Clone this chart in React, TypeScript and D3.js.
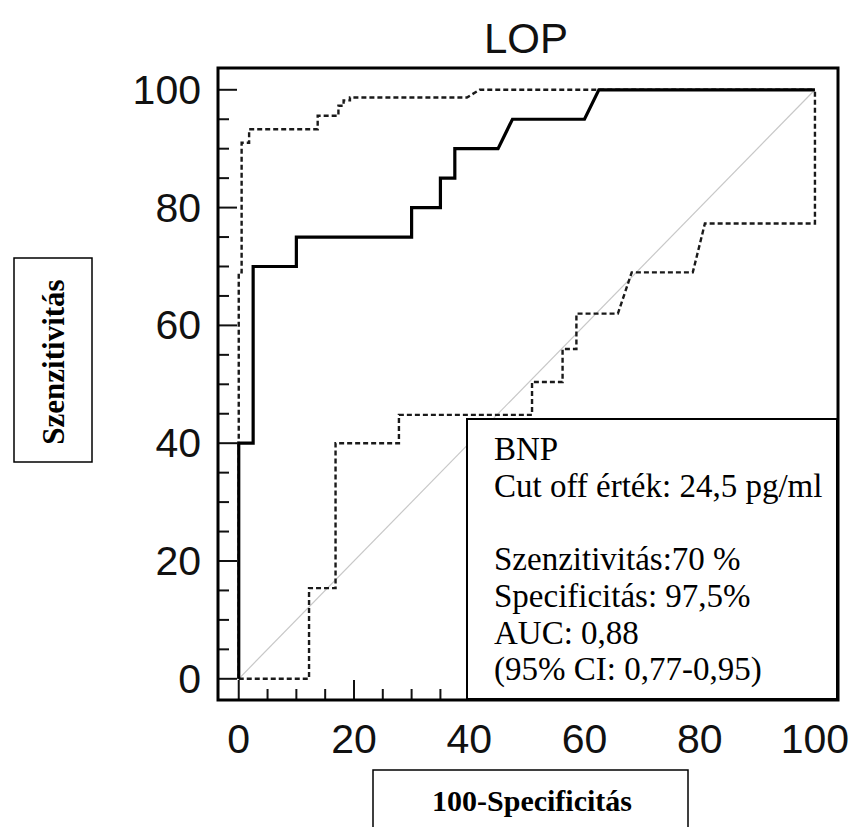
import React, { useEffect, useRef } from 'react';
import * as d3 from 'd3';

// ROC curve (100-specificity vs sensitivity)
const rocFpr = [0, 0, 2.5, 2.5, 10, 10, 30, 30, 35, 35, 37.5, 37.5, 45, 47.5, 60, 62.5, 100];
const rocTpr = [0, 40, 40, 70, 70, 75, 75, 80, 80, 85, 85, 90, 90, 95, 95, 100, 100];

// upper 95% confidence bound
const upperFpr = [0, 0, 0.5, 0.5, 1.8, 1.8, 13.7, 13.7, 17.3, 17.3, 18.2, 18.2, 19.3, 19.3, 39.6, 41.8, 100];
const upperTpr = [0, 69, 69, 91, 91, 93.3, 93.3, 95.6, 95.6, 97.3, 97.3, 98.2, 98.2, 98.7, 98.7, 100, 100];

// lower 95% confidence bound
const lowerFpr = [0, 12.2, 12.2, 16.8, 16.8, 27.8, 27.8, 50.9, 50.9, 56.2, 56.2, 58.6, 58.6, 65.8, 68.2, 78.8, 80.9, 100, 100];
const lowerTpr = [0, 0, 15.4, 15.4, 40, 40, 44.8, 44.8, 50.4, 50.4, 56, 56, 62, 62, 69, 69, 77.3, 77.3, 100];

const majorTicks = [0, 20, 40, 60, 80, 100];
const minorTicks = [5, 10, 15, 25, 30, 35, 45, 50, 55, 65, 70, 75, 85, 90, 95];

const legendLines = [
	'BNP',
	'Cut off érték: 24,5 pg/ml',
	'',
	'Szenzitivitás:70 %',
	'Specificitás: 97,5%',
	'AUC: 0,88',
	'(95% CI: 0,77-0,95)',
];

const width = 862;
const height = 827;

function RocChart() {
	const ref = useRef<SVGSVGElement>(null);

	useEffect(() => {
		const svg = d3.select(ref.current);
		svg.selectAll('*').remove();

		const x = d3.scaleLinear().domain([-3.6, 104]).range([218, 838]);
		const y = d3.scaleLinear().domain([-3.6, 103.7]).range([700, 68]);

		const sans = 'Liberation Sans, Arial, sans-serif';
		const serif = 'Liberation Serif, Times New Roman, serif';

		// ticks
		const g = svg.append('g').attr('stroke', '#111').attr('stroke-width', 2);
		majorTicks.forEach((t) => {
			g.append('line').attr('x1', 218).attr('x2', 237).attr('y1', y(t)).attr('y2', y(t));
			g.append('line').attr('x1', x(t)).attr('x2', x(t)).attr('y1', 700).attr('y2', 680);
		});
		minorTicks.forEach((t) => {
			g.append('line').attr('x1', 218).attr('x2', 229).attr('y1', y(t)).attr('y2', y(t));
			g.append('line').attr('x1', x(t)).attr('x2', x(t)).attr('y1', 700).attr('y2', 689);
		});

		// reference diagonal
		svg
			.append('line')
			.attr('x1', x(0))
			.attr('y1', y(0))
			.attr('x2', x(100))
			.attr('y2', y(100))
			.attr('stroke', '#c8c8c8')
			.attr('stroke-width', 1.2);

		const line = d3
			.line<number>()
			.x((d) => x(d[0]))
			.y((d) => y(d[1]));

		const zip = (a: number[], b: number[]) => a.map((v, i) => [v, b[i]]);

		[zip(upperFpr, upperTpr), zip(lowerFpr, lowerTpr)].forEach((pts) => {
			svg
				.append('path')
				.attr('d', line(pts as any))
				.attr('fill', 'none')
				.attr('stroke', '#1a1a1a')
				.attr('stroke-width', 2.4)
				.attr('stroke-dasharray', '5,3');
		});

		svg
			.append('path')
			.attr('d', line(zip(rocFpr, rocTpr) as any))
			.attr('fill', 'none')
			.attr('stroke', '#000')
			.attr('stroke-width', 3.2);

		// legend box
		svg
			.append('rect')
			.attr('x', 467)
			.attr('y', 419)
			.attr('width', 370)
			.attr('height', 280)
			.attr('fill', '#fff')
			.attr('stroke', '#000')
			.attr('stroke-width', 2);

		legendLines.forEach((txt, i) => {
			svg
				.append('text')
				.attr('x', 494)
				.attr('y', 460 + i * 36.7)
				.attr('font-family', serif)
				.attr('font-size', 33)
				.attr('fill', '#000')
				.text(txt);
		});

		// frame
		svg
			.append('rect')
			.attr('x', 218)
			.attr('y', 68)
			.attr('width', 620)
			.attr('height', 632)
			.attr('fill', 'none')
			.attr('stroke', '#000')
			.attr('stroke-width', 3);

		// tick labels
		majorTicks.forEach((t) => {
			svg
				.append('text')
				.attr('x', x(t))
				.attr('y', 753)
				.attr('text-anchor', 'middle')
				.attr('font-family', sans)
				.attr('font-size', 41)
				.attr('fill', '#111')
				.text(t);
			svg
				.append('text')
				.attr('x', 201)
				.attr('y', y(t) + 14)
				.attr('text-anchor', 'end')
				.attr('font-family', sans)
				.attr('font-size', 41)
				.attr('fill', '#111')
				.text(t);
		});

		// title
		svg
			.append('text')
			.attr('x', 526)
			.attr('y', 53)
			.attr('text-anchor', 'middle')
			.attr('font-family', sans)
			.attr('font-size', 42)
			.attr('fill', '#111')
			.text('LOP');

		// axis title boxes
		svg
			.append('rect')
			.attr('x', 14)
			.attr('y', 258)
			.attr('width', 78)
			.attr('height', 204)
			.attr('fill', '#fff')
			.attr('stroke', '#000')
			.attr('stroke-width', 1.5);
		svg
			.append('text')
			.attr('transform', 'translate(53,362) rotate(-90)')
			.attr('text-anchor', 'middle')
			.attr('dominant-baseline', 'central')
			.attr('font-family', serif)
			.attr('font-weight', 'bold')
			.attr('font-size', 31)
			.text('Szenzitivitás');

		svg
			.append('rect')
			.attr('x', 373)
			.attr('y', 770)
			.attr('width', 315)
			.attr('height', 80)
			.attr('fill', '#fff')
			.attr('stroke', '#000')
			.attr('stroke-width', 1.5);
		svg
			.append('text')
			.attr('x', 532)
			.attr('y', 811)
			.attr('text-anchor', 'middle')
			.attr('font-family', serif)
			.attr('font-weight', 'bold')
			.attr('font-size', 30)
			.text('100-Specificitás');
	}, []);

	return <svg ref={ref} width={width} height={height} style={{ display: 'block' }} />;
}

export default function App() {
	return (
		<div style={{ position: 'absolute', left: 0, top: 0, background: '#fff' }}>
			<RocChart />
		</div>
	);
}
